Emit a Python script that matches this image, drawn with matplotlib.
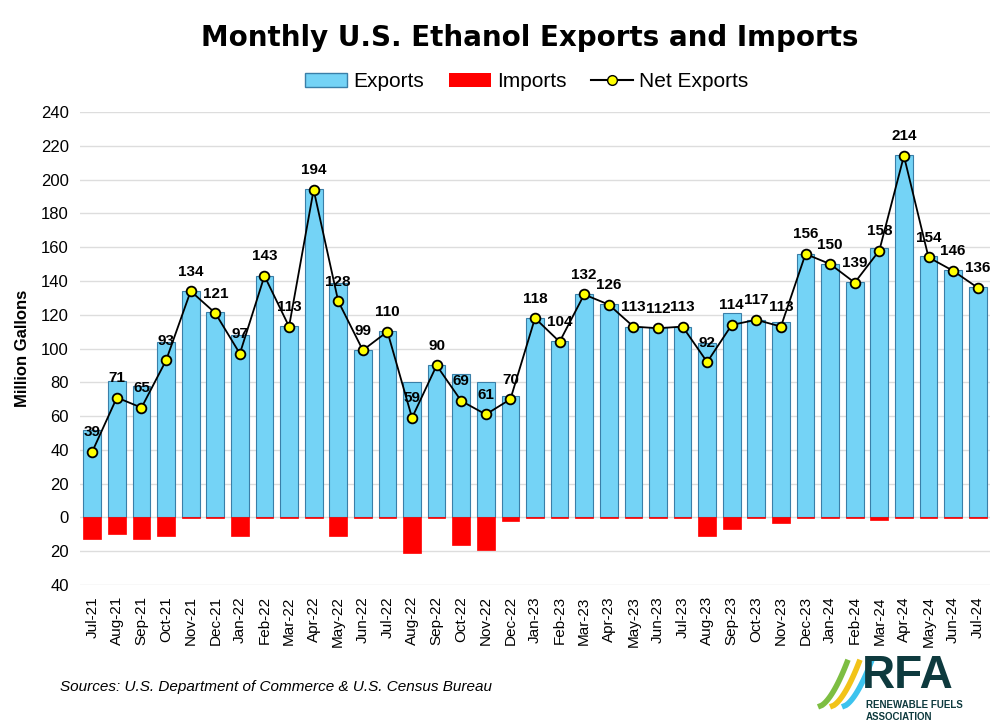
import numpy as np
import matplotlib.pyplot as plt
from matplotlib.patches import Patch
from matplotlib.lines import Line2D

plt.rcParams['font.family'] = ['Liberation Sans', 'DejaVu Sans']

months = ['Jul-21', 'Aug-21', 'Sep-21', 'Oct-21', 'Nov-21', 'Dec-21', 'Jan-22', 'Feb-22',
          'Mar-22', 'Apr-22', 'May-22', 'Jun-22', 'Jul-22', 'Aug-22', 'Sep-22', 'Oct-22',
          'Nov-22', 'Dec-22', 'Jan-23', 'Feb-23', 'Mar-23', 'Apr-23', 'May-23', 'Jun-23',
          'Jul-23', 'Aug-23', 'Sep-23', 'Oct-23', 'Nov-23', 'Dec-23', 'Jan-24', 'Feb-24',
          'Mar-24', 'Apr-24', 'May-24', 'Jun-24', 'Jul-24']

# million gallons
exports = [52, 81, 78, 104, 134.3, 121.5, 108, 143, 113.5, 194.5, 139, 99, 110.5, 80, 90, 85,
           80, 72, 118, 104.5, 132, 126.5, 113, 112.5, 113, 103, 121, 117, 116, 156, 150,
           139.5, 159.5, 214.5, 154.5, 146.3, 136.5]
imports = [13, 10, 13, 11, 0.3, 0.5, 11, 0.2, 0.5, 0.5, 11, 0.2, 0.5, 21, 0.2, 16,
           19, 2, 0.2, 0.5, 0.2, 0.5, 0.2, 0.5, 0.2, 11, 7, 0.2, 3.3, 0.2, 0.2,
           0.5, 1.5, 0.5, 0.5, 0.3, 0.5]
net_exports = [39, 71, 65, 93, 134, 121, 97, 143, 113, 194, 128, 99, 110, 59, 90, 69,
               61, 70, 118, 104, 132, 126, 113, 112, 113, 92, 114, 117, 113, 156, 150,
               139, 158, 214, 154, 146, 136]

x = np.arange(len(months))

fig = plt.figure(figsize=(10, 7.25), dpi=100)
ax = fig.add_axes([0.08, 0.193, 0.91, 0.6525])

ax.bar(x, exports, width=0.72, color='#74D3F6', edgecolor='#3A7FA8', linewidth=0.8, zorder=2)
ax.bar(x, [-v for v in imports], width=0.72, color='#FF0000', edgecolor='#FF0000',
       linewidth=0.5, zorder=2)
ax.plot(x, net_exports, color='black', linewidth=1.3, marker='o', markersize=7,
        markerfacecolor='#FFFF00', markeredgecolor='black', markeredgewidth=1.3, zorder=4)

for xi, v in zip(x, net_exports):
    ax.annotate(str(v), (xi, v), xytext=(0, 14), textcoords='offset points',
                ha='center', va='center', fontsize=11, fontweight='bold', zorder=5)

ax.set_xlim(-0.5, len(months) - 0.5)
ax.set_ylim(-40, 240)
ax.set_yticks(np.arange(-40, 241, 20))
ax.set_yticklabels([str(abs(t)) for t in range(-40, 241, 20)], fontsize=12)
ax.set_xticks(x)
ax.set_xticklabels(months, rotation=90, fontsize=11)
ax.tick_params(axis='both', length=0, pad=8)
ax.grid(axis='y', color='#DDDDDD', linewidth=1, zorder=0)
for s in ax.spines.values():
    s.set_visible(False)
ax.set_ylabel('Million Gallons', fontsize=12, fontweight='bold', labelpad=8)

fig.text(0.53, 0.948, 'Monthly U.S. Ethanol Exports and Imports', ha='center', va='center',
         fontsize=20, fontweight='bold', family=['DejaVu Sans'])

handles = [Patch(facecolor='#74D3F6', edgecolor='#3A7FA8'),
           Patch(facecolor='#FF0000'),
           Line2D([0], [0], color='black', marker='o', markerfacecolor='#FFFF00',
                  markeredgecolor='black', markersize=7)]
fig.legend(handles, ['Exports', 'Imports', 'Net Exports'], loc='center',
           bbox_to_anchor=(0.527, 0.887), ncol=3, frameon=False, fontsize=15,
           handlelength=2.0, columnspacing=1.2, handletextpad=0.3)

fig.text(0.06, 0.052, 'Sources: U.S. Department of Commerce & U.S. Census Bureau',
         fontsize=11, style='italic', va='center')

# RFA logo
t = np.linspace(0, 1, 30)
for dx, col in [(0, '#7DBE42'), (0.012, '#F2C318'), (0.024, '#3CC3EE')]:
    fig.add_artist(Line2D(0.818 + dx + 0.03 * t ** 0.6, 0.025 + 0.065 * t, color=col,
                          linewidth=4, solid_capstyle='butt'))
fig.text(0.862, 0.068, 'RFA', fontsize=33, fontweight='bold', color='#0E3A3E',
         va='center', ha='left')
fig.text(0.866, 0.019, 'RENEWABLE FUELS\nASSOCIATION', fontsize=7, fontweight='bold',
         color='#0E3A3E', va='center', ha='left', linespacing=1.2)

fig.savefig('out.png', dpi=100, facecolor='white')
